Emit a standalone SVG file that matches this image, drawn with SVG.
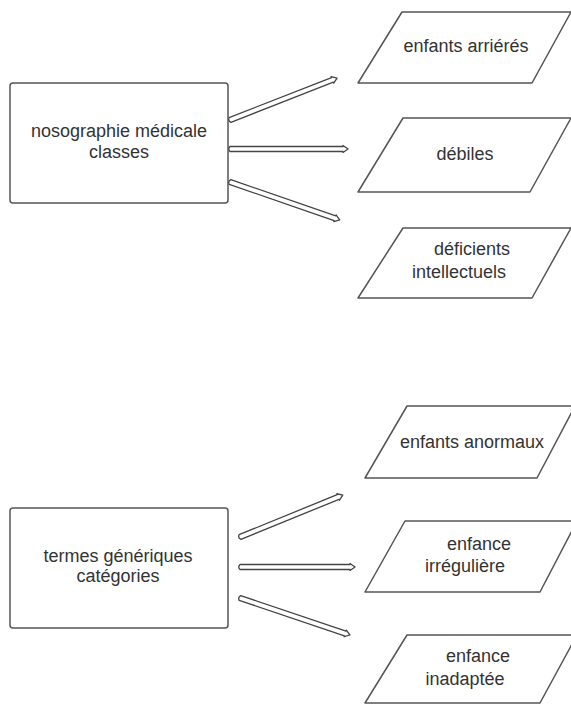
<svg xmlns="http://www.w3.org/2000/svg" width="571" height="704" viewBox="0 0 571 704">
<style>
.box{fill:#fff;stroke:#555;stroke-width:1.5}
.par{fill:#fff;stroke:#555;stroke-width:1.5;stroke-linejoin:round}
.arr{fill:#fff;stroke:#444;stroke-width:1.3;stroke-linejoin:round}
text{font-family:"Liberation Sans",Arial,sans-serif;font-size:18px;fill:#333;text-anchor:middle}
</style>
<rect width="571" height="704" fill="#fff"/>
<g id="connectors">
  <path class="arr" transform="translate(230,120) rotate(-21.4)" d="M0,-2.5 L110,-2.5 L110,-3.5 L115,0 L110,3.5 L110,2.5 L0,2.5 Q-2.5,0 0,-2.5 Z"/>
  <path class="arr" transform="translate(230,149)" d="M0,-2.5 L113,-2.5 L113,-3.5 L118,0 L113,3.5 L113,2.5 L0,2.5 Q-2.5,0 0,-2.5 Z"/>
  <path class="arr" transform="translate(230,182) rotate(19.06)" d="M0,-2.5 L111,-2.5 L111,-3.5 L116,0 L111,3.5 L111,2.5 L0,2.5 Q-2.5,0 0,-2.5 Z"/>
  <path class="arr" transform="translate(240,537) rotate(-22.18)" d="M0,-2.5 L106,-2.5 L106,-3.5 L111,0 L106,3.5 L106,2.5 L0,2.5 Q-2.5,0 0,-2.5 Z"/>
  <path class="arr" transform="translate(240,567)" d="M0,-2.5 L110,-2.5 L110,-3.5 L115,0 L110,3.5 L110,2.5 L0,2.5 Q-2.5,0 0,-2.5 Z"/>
  <path class="arr" transform="translate(240,598) rotate(18.6)" d="M0,-2.5 L111,-2.5 L111,-3.5 L116,0 L111,3.5 L111,2.5 L0,2.5 Q-2.5,0 0,-2.5 Z"/>
</g>
<g id="nosographie">
  <rect class="box" x="10" y="83" width="218" height="120" rx="3"/>
  <text x="119" y="137">nosographie médicale</text>
  <text x="119" y="158">classes</text>
</g>
<g id="enfants-arrieres">
  <polygon class="par" points="402,12 571,12 532,83 358,83"/>
  <text x="466" y="52">enfants arriérés</text>
</g>
<g id="debiles">
  <polygon class="par" points="403,118 571,118 530,192 358,192"/>
  <text x="465" y="160">débiles</text>
</g>
<g id="deficients">
  <polygon class="par" points="403,228 571,228 532,298 358,298"/>
  <text x="472" y="255">déficients</text>
  <text x="459" y="278">intellectuels</text>
</g>
<g id="termes">
  <rect class="box" x="10" y="508" width="218" height="120" rx="3"/>
  <text x="118" y="562">termes génériques</text>
  <text x="118" y="582">catégories</text>
</g>
<g id="enfants-anormaux">
  <polygon class="par" points="407,406 575,406 537,478 365,478"/>
  <text x="472" y="448">enfants anormaux</text>
</g>
<g id="enfance-irreguliere">
  <polygon class="par" points="405,521 577,521 540,592 365,592"/>
  <text x="479" y="550">enfance</text>
  <text x="465" y="572">irrégulière</text>
</g>
<g id="enfance-inadaptee">
  <polygon class="par" points="407,635 577,635 540,703 365,703"/>
  <text x="478" y="662">enfance</text>
  <text x="465" y="685">inadaptée</text>
</g>
</svg>
